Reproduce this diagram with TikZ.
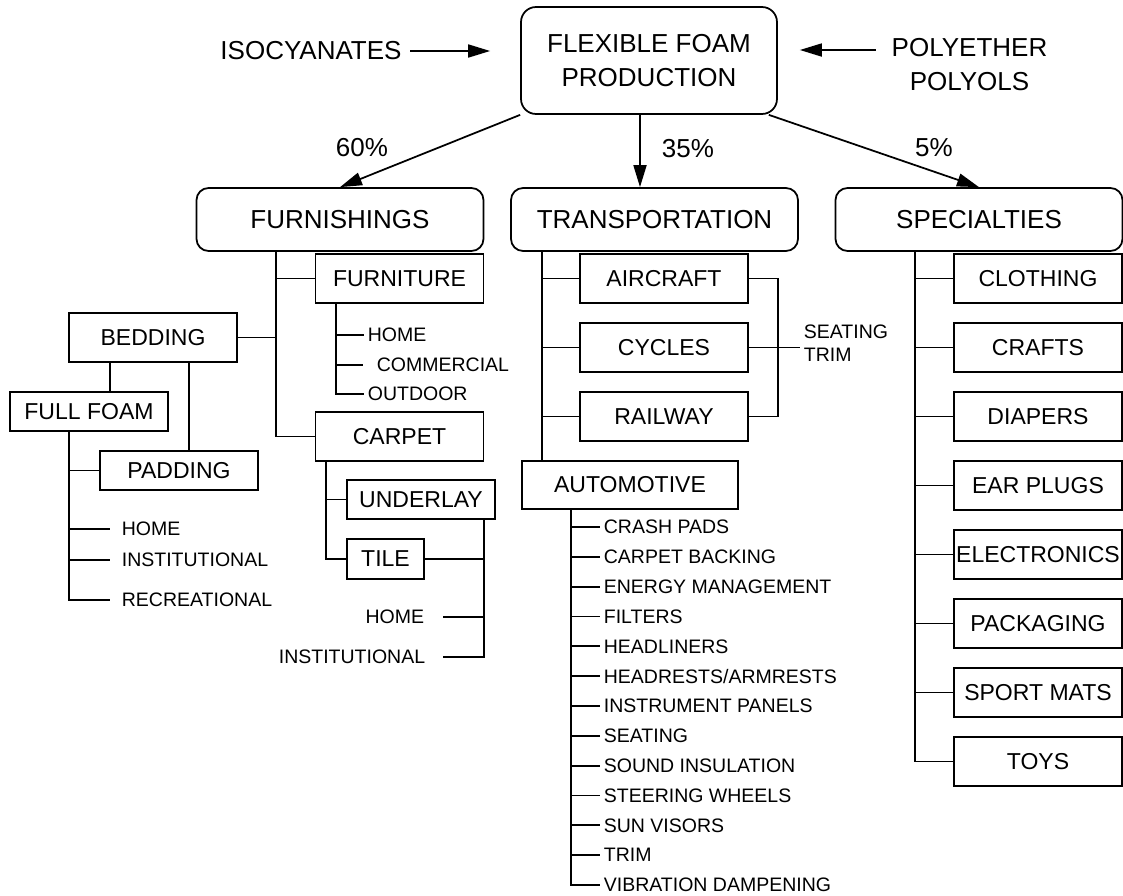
\documentclass[tikz,border=0pt]{standalone}
\usepackage{fontspec}
\setmainfont{Liberation Sans}
\usepackage{tikz}
\usetikzlibrary{arrows.meta}

\begin{document}
\begin{tikzpicture}[x=0.02cm,y=-0.02cm,line width=1pt,
  bigfont/.style={font=\fontsize{14.8}{19.3}\selectfont},
  midfont/.style={font=\fontsize{13.1}{15}\selectfont},
  smallfont/.style={font=\fontsize{11.1}{13.1}\selectfont},
  headbox/.style={draw,rounded corners=0.24cm,minimum width=5.74cm,minimum height=1.26cm,inner sep=0.05cm,bigfont},
  itembox/.style={draw,rectangle,minimum width=3.36cm,minimum height=0.98cm,inner xsep=0.03cm,midfont},
  smallbox/.style={draw,rectangle,minimum height=0.78cm,inner xsep=0.03cm,midfont},
  lbl/.style={inner sep=0.06cm,smallfont,anchor=west},
  feed/.style={-{Triangle[length=0.44cm,width=0.26cm]}}]

  \useasboundingbox (0,0) rectangle (1123,896);

  % production and what goes in
  \node[draw,rounded corners=0.3cm,minimum width=5.12cm,minimum height=2.14cm,align=center,bigfont] (top) at (649,60.5) {FLEXIBLE FOAM\\PRODUCTION};
  \node[bigfont,inner sep=0] (iso) at (311,51) {ISOCYANATES};
  \node[bigfont,align=center,inner sep=0] (poly) at (969.5,64.5) {POLYETHER\\POLYOLS};
  \draw[feed,shorten <=0.16cm,shorten >=0.6cm] (iso.east) -- (iso.east -| top.west);
  \draw[feed,shorten <=0.3cm,shorten >=0.44cm] ([yshift=0.29cm]poly.west) -- ([yshift=0.29cm]poly.west -| top.east);

  % the three markets
  \node[headbox] (furn) at (340,219.5) {FURNISHINGS};
  \node[headbox] (trans) at (654.5,219.5) {TRANSPORTATION};
  \node[headbox] (spec) at (979,219.5) {SPECIALTIES};
  \draw[feed] (top.south west) -- (furn.north);
  \draw[feed] ([xshift=-0.18cm]top.south) -- ([xshift=-0.18cm]top.south |- trans.north);
  \draw[feed] ([xshift=-0.18cm]top.south east) -- (spec.north);
  % shares
  \node[bigfont] (p60) at (362,148) {60\%};
  \node[bigfont] (p35) at (688,149) {35\%};
  \node[bigfont] (p5) at (934,148) {5\%};

  % furnishings
  \node[itembox] (furniture) at (399.5,278.5) {FURNITURE};
  \node[itembox] (bedding) at (153,337.5) {BEDDING};
  \node[itembox] (carpet) at (399.5,436.5) {CARPET};
  \coordinate (furnT) at ([xshift=-1.28cm]furn.south);
  \draw (furnT) |- (carpet.west);
  \draw (furnT |- furniture.west) -- (furniture.west);
  \draw (furnT |- bedding.east) -- (bedding.east);

  % furniture uses
  \node[lbl] (fhome) at (364,335) {HOME};
  \node[lbl] (fcomm) at (373,365) {COMMERCIAL};
  \node[lbl] (fout) at (364,394) {OUTDOOR};
  \coordinate (furnitureT) at ([xshift=-1.27cm]furniture.south);
  \draw (furnitureT) |- (fout.west);
  \draw (furnitureT |- fhome.west) -- (fhome.west);
  \draw (furnitureT |- fcomm.west) -- ([xshift=-0.2cm]fcomm.west);

  % bedding
  \node[smallbox,minimum width=3.16cm] (fullfoam) at (89,411.5) {FULL FOAM};
  \node[smallbox,minimum width=3.16cm] (padding) at (179,470.5) {PADDING};
  \draw ([xshift=0.42cm]fullfoam.north) -- ([xshift=0.42cm]fullfoam.north |- bedding.south);
  \draw ([xshift=0.2cm]padding.north) -- ([xshift=0.2cm]padding.north |- bedding.south);
  \node[lbl] (bhome) at (118,529) {HOME};
  \node[lbl] (binst) at (118,560) {INSTITUTIONAL};
  \node[lbl] (brec) at (118,600) {RECREATIONAL};
  \coordinate (fullfoamT) at ([xshift=-0.4cm]fullfoam.south);
  \draw (fullfoamT) |- ([xshift=-0.16cm]brec.west);
  \draw (fullfoamT |- padding.west) -- (padding.west);
  \draw (fullfoamT |- bhome.west) -- ([xshift=-0.16cm]bhome.west);
  \draw (fullfoamT |- binst.west) -- ([xshift=-0.16cm]binst.west);

  % carpet
  \node[smallbox,minimum width=2.96cm] (underlay) at (421,499.5) {UNDERLAY};
  \node[smallbox,minimum width=1.54cm,minimum height=0.8cm] (tile) at (385.5,559) {TILE};
  \coordinate (carpetT) at ([xshift=-1.47cm]carpet.south);
  \draw (carpetT) |- (tile.west);
  \draw (carpetT |- underlay.west) -- (underlay.west);
  \node[lbl,anchor=east] (chome) at (428,617) {HOME};
  \node[lbl,anchor=east] (cinst) at (429,657) {INSTITUTIONAL};
  \draw (underlay.south -| carpet.east) |- ([xshift=0.28cm]cinst.east);
  \draw (tile.east) -- (tile.east -| carpet.east);
  \draw ([xshift=0.3cm]chome.east) -- (chome.east -| carpet.east);

  % transportation
  \foreach \n/\t/\y in {aircraft/AIRCRAFT/278.5, cycles/CYCLES/347.5, railway/RAILWAY/416.5}
    \node[itembox] (\n) at (664,\y) {\t};
  \node[itembox,minimum width=4.32cm,minimum height=0.96cm] (automotive) at (630,485) {AUTOMOTIVE};
  \coordinate (transT) at ([xshift=-2.25cm]trans.south);
  \draw (transT) -- (transT |- automotive.north);
  \foreach \n in {aircraft,cycles,railway}
    \draw (transT |- \n.west) -- (\n.west);
  \draw (aircraft.east) -| ([xshift=0.58cm]railway.east) -- (railway.east);
  \node[lbl,align=left] (seattrim) at (800,343.5) {SEATING\\TRIM};
  \draw (cycles.east) -- (cycles.east -| seattrim.west);

  % automotive uses
  \foreach \t [count=\i] in {CRASH PADS,CARPET BACKING,ENERGY MANAGEMENT,FILTERS,HEADLINERS,{HEADRESTS/ARMRESTS},INSTRUMENT PANELS,SEATING,SOUND INSULATION,STEERING WHEELS,SUN VISORS,TRIM,VIBRATION DAMPENING}
    \node[lbl] (a\i) at (600,{527+29.83*(\i-1)}) {\t};
  \coordinate (automotiveT) at ([xshift=-1.18cm]automotive.south);
  \draw (automotiveT) |- (a13.west);
  \foreach \i in {1,...,12}
    \draw (automotiveT |- a\i.west) -- (a\i.west);

  % specialties
  \foreach \n/\t [count=\i] in {clothing/CLOTHING,crafts/CRAFTS,diapers/DIAPERS,earplugs/EAR PLUGS,electronics/ELECTRONICS,packaging/PACKAGING,sportmats/SPORT MATS,toys/TOYS}
    \node[itembox] (\n) at (1038,{278.5+69*(\i-1)}) {\t};
  \coordinate (specT) at ([xshift=-1.28cm]spec.south);
  \draw (specT) |- (toys.west);
  \foreach \n in {clothing,crafts,diapers,earplugs,electronics,packaging,sportmats}
    \draw (specT |- \n.west) -- (\n.west);
\end{tikzpicture}
\end{document}
